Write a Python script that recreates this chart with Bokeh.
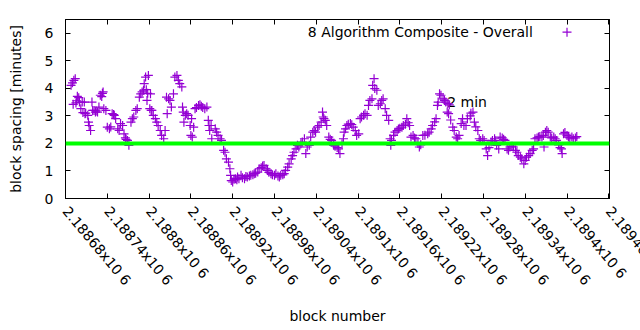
import math
from bokeh.plotting import figure
from bokeh.models import Range1d, FixedTicker, LinearAxis, Span, Label, ColumnDataSource
from bokeh.embed import file_html
from bokeh.resources import INLINE

# ---------------- data ----------------
blocks = [
    2188688, 2188690, 2188691, 2188692, 2188694, 2188695, 2188696, 2188697, 2188699, 2188700,
    2188702, 2188704, 2188705, 2188707, 2188708, 2188709, 2188712, 2188713, 2188714, 2188716,
    2188718, 2188719, 2188721, 2188723, 2188724, 2188726, 2188728, 2188730, 2188732, 2188733,
    2188734, 2188735, 2188738, 2188740, 2188743, 2188745, 2188747, 2188749, 2188750, 2188752,
    2188755, 2188757, 2188759, 2188762, 2188764, 2188766, 2188767, 2188769, 2188771, 2188774,
    2188776, 2188778, 2188781, 2188783, 2188786, 2188788, 2188790, 2188792, 2188793, 2188795,
    2188796, 2188797, 2188798, 2188799, 2188801, 2188802, 2188803, 2188804, 2188806, 2188809,
    2188811, 2188813, 2188816, 2188818, 2188821, 2188823, 2188825, 2188826, 2188828, 2188830,
    2188832, 2188835, 2188837, 2188840, 2188842, 2188844, 2188847, 2188848, 2188849, 2188850,
    2188852, 2188854, 2188856, 2188859, 2188860, 2188861, 2188862, 2188864, 2188866, 2188868,
    2188871, 2188873, 2188875, 2188877, 2188880, 2188883, 2188885, 2188886, 2188887, 2188889,
    2188890, 2188895, 2188897, 2188899, 2188902, 2188904, 2188907, 2188909, 2188911, 2188914,
    2188916, 2188917, 2188918, 2188920, 2188922, 2188924, 2188926, 2188927, 2188929, 2188932,
    2188934, 2188937, 2188939, 2188941, 2188944, 2188946, 2188949, 2188951, 2188953, 2188956,
    2188958, 2188961, 2188963, 2188965, 2188968, 2188970, 2188972, 2188975, 2188977, 2188980,
    2188982, 2188985, 2188987, 2188989, 2188992, 2188994, 2188996, 2188999, 2189001, 2189004,
    2189006, 2189008, 2189011, 2189013, 2189015, 2189018, 2189020, 2189023, 2189025, 2189027,
    2189030, 2189032, 2189035, 2189037, 2189039, 2189042, 2189044, 2189047, 2189049, 2189050,
    2189051, 2189053, 2189055, 2189058, 2189060, 2189062, 2189065, 2189067, 2189070, 2189072,
    2189074, 2189077, 2189079, 2189080, 2189082, 2189084, 2189086, 2189089, 2189091, 2189093,
    2189096, 2189098, 2189101, 2189103, 2189105, 2189108, 2189110, 2189113, 2189115, 2189117,
    2189120, 2189121, 2189123, 2189124, 2189127, 2189129, 2189132, 2189134, 2189136, 2189139,
    2189141, 2189144, 2189146, 2189147, 2189148, 2189151, 2189153, 2189156, 2189158, 2189160,
    2189163, 2189165, 2189168, 2189170, 2189172, 2189174, 2189176, 2189179, 2189181, 2189183,
    2189186, 2189188, 2189190, 2189193, 2189196, 2189200, 2189202, 2189205, 2189207, 2189210,
    2189212, 2189214, 2189215, 2189217, 2189219, 2189222, 2189224, 2189226, 2189228, 2189229,
    2189230, 2189231, 2189233, 2189236, 2189238, 2189241, 2189243, 2189245, 2189248, 2189250,
    2189252, 2189255, 2189257, 2189261, 2189262, 2189265, 2189267, 2189269, 2189272, 2189274,
    2189276, 2189279, 2189281, 2189284, 2189286, 2189288, 2189291, 2189293, 2189296, 2189297,
    2189299, 2189302, 2189304, 2189307, 2189309, 2189311, 2189314, 2189316, 2189318, 2189321,
    2189323, 2189326, 2189328, 2189330, 2189333, 2189335, 2189338, 2189340, 2189342, 2189345,
    2189347, 2189350, 2189352, 2189354, 2189357, 2189359, 2189361, 2189364, 2189366, 2189367,
    2189369, 2189371, 2189373, 2189376, 2189378, 2189381, 2189383, 2189385, 2189388, 2189390,
    2189392, 2189393, 2189395, 2189397, 2189400, 2189402, 2189404, 2189407, 2189409, 2189412,
    2189414,
]

spacing = [
    4.11, 4.20, 3.42, 4.29, 4.35, 3.47, 3.55, 3.71, 3.66, 3.50,
    3.26, 3.50, 3.12, 3.50, 3.08, 3.10, 3.02, 2.77, 2.65, 2.47,
    3.50, 3.20, 3.20, 3.14, 3.18, 3.14, 3.32, 3.75, 3.70, 3.82,
    3.87, 3.26, 3.20, 2.59, 2.53, 2.60, 3.08, 3.05, 3.02, 2.90,
    2.53, 2.47, 2.72, 2.65, 2.35, 2.20, 2.15, 2.11, 1.93, 2.77,
    2.90, 2.96, 3.20, 3.26, 3.68, 3.80, 3.87, 3.93, 4.17, 4.41,
    3.95, 3.56, 3.82, 4.47, 3.26, 3.80, 3.20, 3.20, 3.02, 2.90,
    2.77, 2.65, 2.47, 2.29, 2.17, 2.47, 3.68, 3.08, 3.62, 3.56,
    3.32, 3.80, 4.41, 4.47, 4.29, 4.17, 4.05, 3.32, 3.14, 2.77,
    3.02, 3.08, 3.02, 2.65, 2.29, 2.90, 2.23, 2.59, 3.26, 3.30,
    3.38, 3.40, 3.35, 3.30, 3.26, 3.32, 2.84, 2.65, 2.47, 2.65,
    2.17, 2.53, 2.41, 2.29, 2.17, 2.11, 1.75, 1.68, 1.44, 1.32,
    1.08, 0.84, 0.65, 0.60, 0.70, 0.72, 0.68, 0.78, 0.72, 0.84,
    0.75, 0.72, 0.80, 0.78, 0.82, 0.84, 0.86, 0.90, 0.92, 0.96,
    1.08, 1.12, 1.18, 1.20, 1.08, 1.02, 0.95, 0.90, 0.86, 0.84,
    0.90, 0.82, 0.78, 0.84, 0.86, 0.90, 1.02, 1.14, 1.26, 1.44,
    1.56, 1.68, 1.80, 1.93, 1.87, 1.99, 2.05, 2.17, 1.63, 1.87,
    1.93, 2.23, 2.41, 2.47, 2.41, 2.59, 2.65, 2.77, 3.14, 2.96,
    2.90, 2.84, 2.65, 2.23, 2.15, 2.11, 1.93, 1.90, 1.85, 1.80,
    1.63, 1.99, 2.17, 2.41, 2.53, 2.65, 2.70, 2.72, 2.68, 2.59,
    2.47, 2.29, 2.35, 2.90, 2.96, 3.02, 3.08, 3.02, 3.38, 3.56,
    3.62, 4.11, 4.35, 3.99, 3.93, 3.38, 3.44, 3.56, 3.62, 3.26,
    3.02, 2.84, 2.17, 1.93, 2.11, 2.29, 2.41, 2.47, 2.52, 2.55,
    2.59, 2.65, 2.70, 2.90, 2.75, 2.65, 2.23, 2.29, 2.20, 2.17,
    2.00, 1.87, 1.95, 2.29, 2.30, 2.35, 2.41, 2.53, 2.65, 2.78,
    2.90, 3.38, 3.50, 3.80, 3.75, 3.62, 3.56, 3.50, 3.14, 3.45,
    3.08, 3.40, 2.85, 2.59, 2.47, 2.23, 2.17, 2.29, 2.72, 2.90,
    2.65, 2.65, 2.90, 3.00, 3.10, 3.14, 2.77, 2.60, 2.47, 2.17,
    2.11, 2.17, 2.11, 1.80, 1.56, 1.85, 2.05, 2.11, 2.17, 2.10,
    1.93, 1.80, 2.23, 2.20, 2.15, 2.11, 1.80, 1.75, 1.87, 1.90,
    1.87, 1.75, 1.68, 1.56, 1.50, 1.44, 1.26, 1.38, 1.50, 1.56,
    1.63, 1.75, 1.80, 2.17, 2.20, 2.23, 2.25, 2.23, 2.29, 1.87,
    2.41, 2.47, 2.41, 2.23, 2.20, 2.23, 2.17, 2.11, 1.95, 1.85,
    1.80, 1.63, 2.35, 2.40, 2.29, 2.23, 2.20, 2.23, 2.17, 2.20,
    2.25,
]

x_ticks = [2188680, 2188740, 2188800, 2188860, 2188920, 2188980, 2189040,
           2189100, 2189160, 2189220, 2189280, 2189340, 2189400, 2189460]
x_tick_labels = ["2.18868x10 6", "2.18874x10 6", "2.1888x10 6", "2.18886x10 6",
                 "2.18892x10 6", "2.18898x10 6", "2.18904x10 6", "2.1891x10 6",
                 "2.18916x10 6", "2.18922x10 6", "2.18928x10 6", "2.18934x10 6",
                 "2.1894x10 6", "2.18946x10 6"]
y_ticks = [0, 1, 2, 3, 4, 5, 6]

target_minutes = 2
target_label = "2 min"
target_label_pos = (2189228, 3.5)
series_name = "8 Algorithm Composite - Overall"
legend_text_pos = (2189351, 6.04)
legend_mark_pos = (2189400, 6.04)

FONT = "DejaVu Sans"
FS = "14px"
PURPLE = "#9400D3"
LABEL_ANGLE = -math.radians(50)

# Bokeh pulls the last tick label back inside the canvas; an unlabeled edge tick
# one block further lets the real last label run off the edge as in gnuplot.
x_start, x_end = x_ticks[0], x_ticks[-1] + 1
axis_ticks = x_ticks + [x_end]

p = figure(width=640, height=330, output_backend="svg", toolbar_location=None,
           x_range=Range1d(x_start, x_end), y_range=Range1d(0, 6.5),
           min_border_left=65, min_border_right=31, min_border_top=19,
           min_border_bottom=132)
p.background_fill_color = "white"
p.border_fill_color = "white"
p.outline_line_color = "black"
p.outline_line_width = 1
p.xgrid.visible = False
p.ygrid.visible = False

xa = p.xaxis[0]
xa.ticker = FixedTicker(ticks=axis_ticks)
overrides = {t: l for t, l in zip(x_ticks, x_tick_labels)}
overrides[x_end] = ""
xa.major_label_overrides = overrides
xa.major_label_orientation = LABEL_ANGLE
xa.axis_label = "block number"

ya = p.yaxis[0]
ya.ticker = FixedTicker(ticks=y_ticks)
ya.axis_label = "block spacing [minutes]"

for ax in (xa, ya):
    ax.major_tick_in = 5
    ax.major_tick_out = 0
    ax.minor_tick_line_color = None
    ax.axis_line_color = "black"
    ax.major_label_text_font = FONT
    ax.major_label_text_font_size = FS
    ax.major_label_text_color = "black"
    ax.axis_label_text_font = FONT
    ax.axis_label_text_font_size = FS
    ax.axis_label_text_font_style = "normal"
    ax.axis_label_text_color = "black"
xa.major_label_standoff = 10
xa.axis_label_standoff = 12
ya.major_label_standoff = 12
ya.axis_label_standoff = 18

# mirrored ticks on top and right (labels not drawn)
top = LinearAxis(ticker=FixedTicker(ticks=x_ticks), major_label_text_color=None,
                 major_label_text_font_size="8px",
                 major_label_standoff=0, major_tick_in=5, major_tick_out=0,
                 minor_tick_line_color=None, axis_line_color="black")
right = LinearAxis(ticker=FixedTicker(ticks=y_ticks), major_label_text_color=None,
                   major_label_text_font_size="8px",
                   major_label_standoff=0, major_tick_in=5, major_tick_out=0,
                   minor_tick_line_color=None, axis_line_color="black")
p.add_layout(top, "above")
p.add_layout(right, "right")

p.add_layout(Label(x=target_label_pos[0], y=target_label_pos[1], text=target_label,
                   text_font=FONT, text_font_size=FS, text_color="black",
                   text_baseline="middle", text_align="left", level="underlay"))

src = ColumnDataSource(dict(block=blocks, spacing=spacing))
p.scatter("block", "spacing", source=src, marker="cross", size=9,
          line_color=PURPLE, line_width=1.2)

p.add_layout(Span(location=target_minutes, dimension="width",
                  line_color="#00FF00", line_width=4))

# legend (text then sample, gnuplot style)
p.add_layout(Label(x=legend_text_pos[0], y=legend_text_pos[1], text=series_name,
                   text_font=FONT, text_font_size=FS, text_color="black",
                   text_baseline="middle", text_align="right"))
p.scatter([legend_mark_pos[0]], [legend_mark_pos[1]], marker="cross", size=9,
          line_color=PURPLE, line_width=1.2)

open("out.html", "w").write(file_html(p, INLINE))
